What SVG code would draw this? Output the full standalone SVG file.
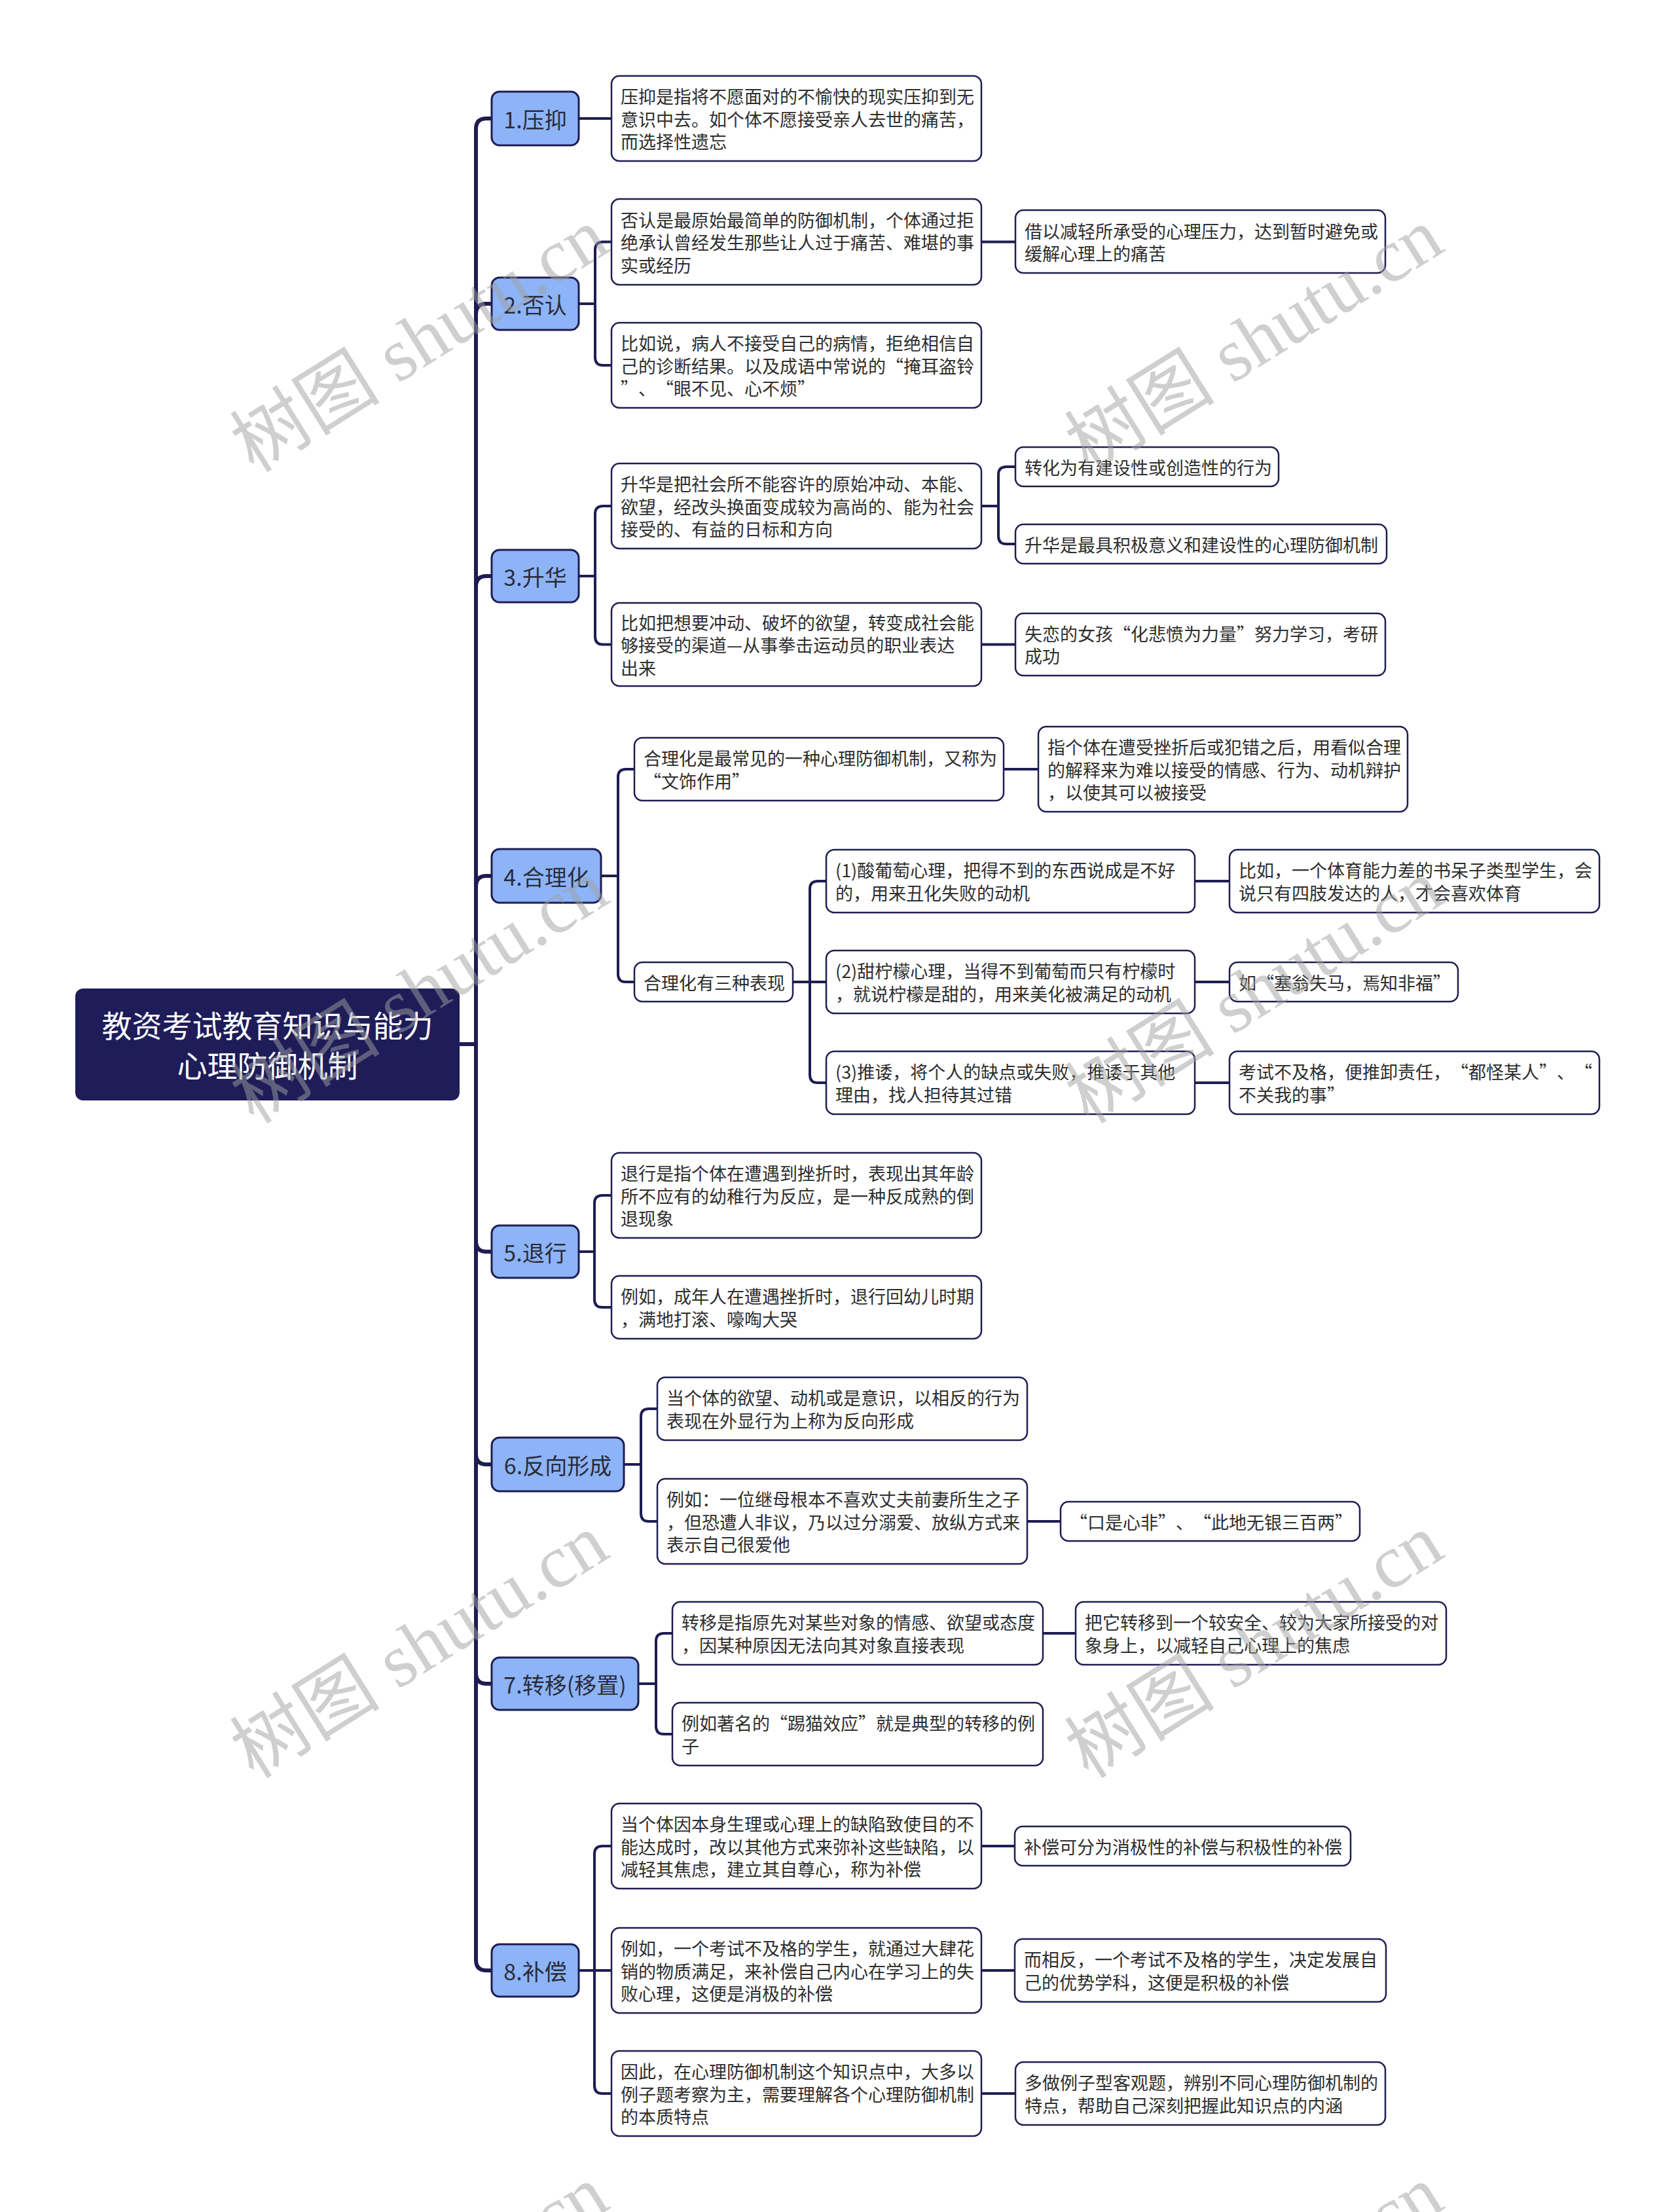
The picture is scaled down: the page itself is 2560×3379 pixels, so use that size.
<svg xmlns="http://www.w3.org/2000/svg" width="2560" height="3379" viewBox="0 0 2560 3379">
<style>
.leaf rect{fill:#fff;stroke:#1e1d52;stroke-width:2.5}
.leaf text{font-family:"Noto Sans CJK SC","Noto Sans",sans-serif;font-size:27px;fill:#2e2e2e;dominant-baseline:central;text-spacing-trim:space-all}
.main rect{fill:#8db4f7;stroke:#1e1d52;stroke-width:3}
.main text{font-family:"Noto Sans CJK SC","Noto Sans",sans-serif;font-size:34px;fill:#2b2b3a;text-anchor:middle;dominant-baseline:central}
.root rect{fill:#1e1d59}
.root text{font-family:"Noto Sans CJK SC","Noto Sans",sans-serif;font-size:46px;fill:#fff;text-anchor:middle;dominant-baseline:central}
.c{fill:none;stroke:#1e1d52;stroke-width:4;stroke-linecap:butt}
.t{stroke-width:6}
.wm{font-family:"Liberation Serif","Noto Sans CJK SC",serif;font-size:115px;fill:#a0a0a0;fill-opacity:.5;text-anchor:middle;dominant-baseline:central}
</style>
<rect width="2560" height="3379" fill="#fff"/>
<g id="connectors">
<g class="c t">
<path d="M702,1595 H727 V197 Q727,181 743,181 H751"/>
<path d="M702,1595 H727 V480 Q727,464 743,464 H751"/>
<path d="M702,1595 H727 V896 Q727,880 743,880 H751"/>
<path d="M702,1595 H727 V1354 Q727,1338 743,1338 H751"/>
<path d="M702,1595 H727 V1896 Q727,1912 743,1912 H751"/>
<path d="M702,1595 H727 V2221 Q727,2237 743,2237 H751"/>
<path d="M702,1595 H727 V2556 Q727,2572 743,2572 H751"/>
<path d="M702,1595 H727 V2994 Q727,3010 743,3010 H751"/>
</g>
<g class="c">
<path d="M884,181 H934"/>
<path d="M884,464 H909 V381.5 Q909,369.5 921,369.5 H934"/>
<path d="M884,464 H909 V546 Q909,558 921,558 H934"/>
<path d="M1499,369.5 H1551"/>
<path d="M884,880 H909 V785 Q909,773 921,773 H934"/>
<path d="M884,880 H909 V972.5 Q909,984.5 921,984.5 H934"/>
<path d="M1499,773 H1525 V725 Q1525,713 1537,713 H1551"/>
<path d="M1499,773 H1525 V819 Q1525,831 1537,831 H1551"/>
<path d="M1499,984.5 H1551"/>
<path d="M918,1338 H944 V1187 Q944,1175 956,1175 H969"/>
<path d="M918,1338 H944 V1488 Q944,1500 956,1500 H969"/>
<path d="M1533,1175 H1586"/>
<path d="M1211,1500 H1237 V1358 Q1237,1346 1249,1346 H1262"/>
<path d="M1211,1500 H1262"/>
<path d="M1211,1500 H1237 V1642 Q1237,1654 1249,1654 H1262"/>
<path d="M1825,1346 H1878"/>
<path d="M1825,1500 H1878"/>
<path d="M1825,1654 H1878"/>
<path d="M884,1912 H908 V1838 Q908,1826 920,1826 H934"/>
<path d="M884,1912 H908 V1985 Q908,1997 920,1997 H934"/>
<path d="M953,2237 H979 V2164 Q979,2152 991,2152 H1004"/>
<path d="M953,2237 H979 V2312 Q979,2324 991,2324 H1004"/>
<path d="M1569,2324 H1620"/>
<path d="M975,2572 H1002 V2507 Q1002,2495 1014,2495 H1027"/>
<path d="M975,2572 H1002 V2637 Q1002,2649 1014,2649 H1027"/>
<path d="M1593,2495 H1643"/>
<path d="M884,3010 H908 V2832 Q908,2820 920,2820 H934"/>
<path d="M884,3010 H934"/>
<path d="M884,3010 H908 V3186 Q908,3198 920,3198 H934"/>
<path d="M1499,2820 H1550"/>
<path d="M1499,3010 H1550"/>
<path d="M1499,3198 H1551"/>
</g>
</g>

<g id="root" class="root">
<rect x="115" y="1510" width="587" height="171" rx="12"/>
<text x="408.5" y="1564">教资考试教育知识与能力</text>
<text x="408.5" y="1625">心理防御机制</text>
</g>

<g id="n1" class="main"><rect x="751" y="140" width="133" height="82" rx="12"/><text x="817.5" y="181">1.压抑</text></g>
<g id="n2" class="main"><rect x="751" y="424" width="133" height="80" rx="12"/><text x="817.5" y="464">2.否认</text></g>
<g id="n3" class="main"><rect x="751" y="840" width="133" height="80" rx="12"/><text x="817.5" y="880">3.升华</text></g>
<g id="n4" class="main"><rect x="751" y="1297" width="167" height="82" rx="12"/><text x="834.5" y="1338">4.合理化</text></g>
<g id="n5" class="main"><rect x="751" y="1872" width="133" height="80" rx="12"/><text x="817.5" y="1912">5.退行</text></g>
<g id="n6" class="main"><rect x="751" y="2196" width="202" height="82" rx="12"/><text x="852" y="2237">6.反向形成</text></g>
<g id="n7" class="main"><rect x="751" y="2532" width="224" height="80" rx="12"/><text x="863" y="2572">7.转移(移置)</text></g>
<g id="n8" class="main"><rect x="751" y="2970" width="133" height="80" rx="12"/><text x="817.5" y="3010">8.补偿</text></g>

<g id="l1a" class="leaf"><rect x="934" y="116" width="565" height="130" rx="12"/>
<text x="948" y="146.5">压抑是指将不愿面对的不愉快的现实压抑到无</text>
<text x="948" y="181">意识中去。如个体不愿接受亲人去世的痛苦，</text>
<text x="948" y="215.5">而选择性遗忘</text></g>

<g id="l2a" class="leaf"><rect x="934" y="304" width="565" height="131" rx="12"/>
<text x="948" y="335">否认是最原始最简单的防御机制，个体通过拒</text>
<text x="948" y="369.5">绝承认曾经发生那些让人过于痛苦、难堪的事</text>
<text x="948" y="404">实或经历</text></g>
<g id="l2b" class="leaf"><rect x="934" y="493" width="565" height="130" rx="12"/>
<text x="948" y="523.5">比如说，病人不接受自己的病情，拒绝相信自</text>
<text x="948" y="558">己的诊断结果。以及成语中常说的“掩耳盗铃</text>
<text x="948" y="592.5">”、“眼不见、心不烦”</text></g>
<g id="l2c" class="leaf"><rect x="1551" y="321" width="565" height="96" rx="12"/>
<text x="1565" y="352">借以减轻所承受的心理压力，达到暂时避免或</text>
<text x="1565" y="386.5">缓解心理上的痛苦</text></g>

<g id="l3a" class="leaf"><rect x="934" y="708" width="565" height="130" rx="12"/>
<text x="948" y="738.5">升华是把社会所不能容许的原始冲动、本能、</text>
<text x="948" y="773">欲望，经改头换面变成较为高尚的、能为社会</text>
<text x="948" y="807.5">接受的、有益的日标和方向</text></g>
<g id="l3b" class="leaf"><rect x="934" y="921" width="565" height="127" rx="12"/>
<text x="948" y="950">比如把想要冲动、破坏的欲望，转变成社会能</text>
<text x="948" y="984.5">够接受的渠道—从事拳击运动员的职业表达</text>
<text x="948" y="1019">出来</text></g>
<g id="l3c" class="leaf"><rect x="1551" y="683" width="402" height="60" rx="12"/>
<text x="1565" y="713">转化为有建设性或创造性的行为</text></g>
<g id="l3d" class="leaf"><rect x="1551" y="801" width="567" height="60" rx="12"/>
<text x="1565" y="831">升华是最具积极意义和建设性的心理防御机制</text></g>
<g id="l3e" class="leaf"><rect x="1551" y="937" width="565" height="95" rx="12"/>
<text x="1565" y="967.25">失恋的女孩“化悲愤为力量”努力学习，考研</text>
<text x="1565" y="1001.75">成功</text></g>

<g id="l4a" class="leaf"><rect x="969" y="1127" width="564" height="96" rx="12"/>
<text x="983" y="1157.75">合理化是最常见的一种心理防御机制，又称为</text>
<text x="983" y="1192.25">“文饰作用”</text></g>
<g id="l4b" class="leaf"><rect x="1586" y="1110" width="564" height="130" rx="12"/>
<text x="1600" y="1140.5">指个体在遭受挫折后或犯错之后，用看似合理</text>
<text x="1600" y="1175">的解释来为难以接受的情感、行为、动机辩护</text>
<text x="1600" y="1209.5">，以使其可以被接受</text></g>
<g id="l4c" class="leaf"><rect x="969" y="1470" width="242" height="60" rx="12"/>
<text x="983" y="1500">合理化有三种表现</text></g>
<g id="l4d" class="leaf"><rect x="1262" y="1298" width="563" height="96" rx="12"/>
<text x="1276" y="1328.75">(1)酸葡萄心理，把得不到的东西说成是不好</text>
<text x="1276" y="1363.25">的，用来丑化失败的动机</text></g>
<g id="l4e" class="leaf"><rect x="1878" y="1298" width="565" height="96" rx="12"/>
<text x="1892" y="1328.75">比如，一个体育能力差的书呆子类型学生，会</text>
<text x="1892" y="1363.25">说只有四肢发达的人，才会喜欢体育</text></g>
<g id="l4f" class="leaf"><rect x="1262" y="1452" width="563" height="96" rx="12"/>
<text x="1276" y="1482.75">(2)甜柠檬心理，当得不到葡萄而只有柠檬时</text>
<text x="1276" y="1517.25">，就说柠檬是甜的，用来美化被满足的动机</text></g>
<g id="l4g" class="leaf"><rect x="1878" y="1470" width="349" height="60" rx="12"/>
<text x="1892" y="1500">如“塞翁失马，焉知非福”</text></g>
<g id="l4h" class="leaf"><rect x="1262" y="1606" width="563" height="96" rx="12"/>
<text x="1276" y="1636.75">(3)推诿，将个人的缺点或失败，推诿于其他</text>
<text x="1276" y="1671.25">理由，找人担待其过错</text></g>
<g id="l4i" class="leaf"><rect x="1878" y="1606" width="565" height="96" rx="12"/>
<text x="1892" y="1636.75">考试不及格，便推卸责任，“都怪某人”、“</text>
<text x="1892" y="1671.25">不关我的事”</text></g>

<g id="l5a" class="leaf"><rect x="934" y="1761" width="565" height="130" rx="12"/>
<text x="948" y="1791.5">退行是指个体在遭遇到挫折时，表现出其年龄</text>
<text x="948" y="1826">所不应有的幼稚行为反应，是一种反成熟的倒</text>
<text x="948" y="1860.5">退现象</text></g>
<g id="l5b" class="leaf"><rect x="934" y="1949" width="565" height="96" rx="12"/>
<text x="948" y="1979.75">例如，成年人在遭遇挫折时，退行回幼儿时期</text>
<text x="948" y="2014.25">，满地打滚、嚎啕大哭</text></g>

<g id="l6a" class="leaf"><rect x="1004" y="2104" width="565" height="96" rx="12"/>
<text x="1018" y="2134.75">当个体的欲望、动机或是意识，以相反的行为</text>
<text x="1018" y="2169.25">表现在外显行为上称为反向形成</text></g>
<g id="l6b" class="leaf"><rect x="1004" y="2259" width="565" height="130" rx="12"/>
<text x="1018" y="2289.5">例如：一位继母根本不喜欢丈夫前妻所生之子</text>
<text x="1018" y="2324">，但恐遭人非议，乃以过分溺爱、放纵方式来</text>
<text x="1018" y="2358.5">表示自己很爱他</text></g>
<g id="l6c" class="leaf"><rect x="1620" y="2294" width="457" height="60" rx="12"/>
<text x="1634" y="2324">“口是心非”、“此地无银三百两”</text></g>

<g id="l7a" class="leaf"><rect x="1027" y="2447" width="566" height="96" rx="12"/>
<text x="1041" y="2477.75">转移是指原先对某些对象的情感、欲望或态度</text>
<text x="1041" y="2512.25">，因某种原因无法向其对象直接表现</text></g>
<g id="l7b" class="leaf"><rect x="1643" y="2447" width="566" height="96" rx="12"/>
<text x="1657" y="2477.75">把它转移到一个较安全、较为大家所接受的对</text>
<text x="1657" y="2512.25">象身上，以减轻自己心理上的焦虑</text></g>
<g id="l7c" class="leaf"><rect x="1027" y="2601" width="566" height="96" rx="12"/>
<text x="1041" y="2631.75">例如著名的“踢猫效应”就是典型的转移的例</text>
<text x="1041" y="2666.25">子</text></g>

<g id="l8a" class="leaf"><rect x="934" y="2755" width="565" height="130" rx="12"/>
<text x="948" y="2785.5">当个体因本身生理或心理上的缺陷致使目的不</text>
<text x="948" y="2820">能达成时，改以其他方式来弥补这些缺陷，以</text>
<text x="948" y="2854.5">减轻其焦虑，建立其自尊心，称为补偿</text></g>
<g id="l8b" class="leaf"><rect x="1550" y="2790" width="513" height="60" rx="12"/>
<text x="1564" y="2820">补偿可分为消极性的补偿与积极性的补偿</text></g>
<g id="l8c" class="leaf"><rect x="934" y="2945" width="565" height="130" rx="12"/>
<text x="948" y="2975.5">例如，一个考试不及格的学生，就通过大肆花</text>
<text x="948" y="3010">销的物质满足，来补偿自己内心在学习上的失</text>
<text x="948" y="3044.5">败心理，这便是消极的补偿</text></g>
<g id="l8d" class="leaf"><rect x="1550" y="2962" width="567" height="96" rx="12"/>
<text x="1564" y="2992.75">而相反，一个考试不及格的学生，决定发展自</text>
<text x="1564" y="3027.25">己的优势学科，这便是积极的补偿</text></g>
<g id="l8e" class="leaf"><rect x="934" y="3133" width="565" height="130" rx="12"/>
<text x="948" y="3163.5">因此，在心理防御机制这个知识点中，大多以</text>
<text x="948" y="3198">例子题考察为主，需要理解各个心理防御机制</text>
<text x="948" y="3232.5">的本质特点</text></g>
<g id="l8f" class="leaf"><rect x="1551" y="3150" width="565" height="96" rx="12"/>
<text x="1565" y="3180.75">多做例子型客观题，辨别不同心理防御机制的</text>
<text x="1565" y="3215.25">特点，帮助自己深刻把握此知识点的内涵</text></g>

<g id="watermarks" class="wm">
<text x="641" y="520" transform="rotate(-32 641 520)">树图 shutu.cn</text>
<text x="1916" y="520" transform="rotate(-32 1916 520)">树图 shutu.cn</text>
<text x="641" y="1515" transform="rotate(-32 641 1515)">树图 shutu.cn</text>
<text x="1916" y="1515" transform="rotate(-32 1916 1515)">树图 shutu.cn</text>
<text x="641" y="2515" transform="rotate(-32 641 2515)">树图 shutu.cn</text>
<text x="1916" y="2515" transform="rotate(-32 1916 2515)">树图 shutu.cn</text>
<text x="641" y="3510" transform="rotate(-32 641 3510)">树图 shutu.cn</text>
<text x="1916" y="3510" transform="rotate(-32 1916 3510)">树图 shutu.cn</text>
</g>
</svg>
